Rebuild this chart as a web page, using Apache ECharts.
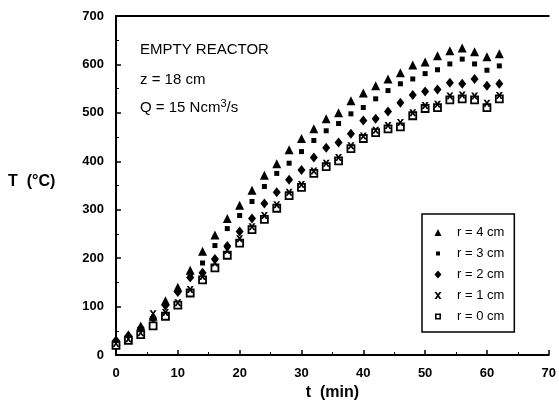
<!DOCTYPE html>
<html><head><meta charset="utf-8">
<script src="https://cdn.jsdelivr.net/npm/echarts@6/dist/echarts.min.js"></script>
<style>html,body{margin:0;padding:0;background:#fff}#c{width:559px;height:409px}</style>
</head><body><div id="c"></div>
<script>
const times = [0,2,4,6,8,10,12,14,16,18,20,22,24,26,28,30,32,34,36,38,40,42,44,46,48,50,52,54,56,58,60,62];
const r4 = [28,42,60,80,112,140,175,214,248,282,309,340,371,395,424,447,467,488,500,525,541,556,570,583,599,605,618,628,634,626,616,622];
const r3 = [25,38,55,75,105,132,165,190,226,261,288,317,348,375,396,420,443,463,478,498,511,529,546,560,570,581,589,601,611,601,588,597];
const r2 = [30,40,56,76,102,130,160,170,198,225,255,282,313,336,362,382,408,428,439,457,484,488,503,521,537,544,548,562,560,570,556,560];
const r1 = [24,33,46,85,88,108,135,162,190,216,240,265,288,310,336,352,380,396,408,432,452,464,474,480,500,515,518,535,537,535,520,536];
const r0 = [20,30,42,60,80,103,128,155,180,206,231,259,280,303,329,346,375,389,401,426,447,459,467,471,494,509,511,527,529,527,511,529];
const seriesNames = ['r = 4 cm','r = 3 cm','r = 2 cm','r = 1 cm','r = 0 cm'];
const xTicks = [0,10,20,30,40,50,60,70];
const yTicks = [0,100,200,300,400,500,600,700];

const pair = arr => times.map((t,i)=>[t,arr[i]]);
const xPath = 'path://M0,0 L3,0 L5,3 L7,0 L10,0 L6.5,5 L10,10 L7,10 L5,7 L3,10 L0,10 L3.5,5 Z';
const pad = 'M0,0 L0.01,0 L0.01,0.01 Z M10,10 L10.01,10 L10.01,10.01 Z ';
const font = 'Liberation Sans, Arial, Helvetica, sans-serif';
const legIcon = {color:'#000', opacity:1, borderWidth:0};

const chart = echarts.init(document.getElementById('c'), null, {renderer:'canvas'});
const axisCommon = {
  type:'value', splitLine:{show:false},
  axisLine:{show:true, lineStyle:{color:'#000', width:2}},
  axisTick:{show:true, inside:true, length:5, lineStyle:{color:'#000', width:1.5}},
  minorTick:{show:true, splitNumber:2, length:3, lineStyle:{color:'#000', width:1}},
  axisLabel:{color:'#000', fontWeight:'bold', fontSize:13, fontFamily:font, margin:12}
};
const blk = {color:'#000', opacity:1};
chart.setOption({
  animation:false,
  backgroundColor:'#fff',
  grid:{left:116, right:9, top:16, bottom:54, containLabel:false},
  xAxis:[
    Object.assign({}, axisCommon, {min:0, max:70, interval:10,
      name:'t  (min)', nameLocation:'middle', nameGap:30,
      nameTextStyle:{color:'#000', fontWeight:'bold', fontSize:16, fontFamily:font}}),
    {type:'value', position:'top', min:0, max:70, axisLine:{show:true, lineStyle:{color:'#000', width:2}},
     axisTick:{show:false}, axisLabel:{show:false}, splitLine:{show:false}}
  ],
  yAxis:[Object.assign({}, axisCommon, {min:0, max:700, interval:100})],
  legend:{
    orient:'vertical', left:422, top:214, width:103,
    padding:[12,10,9,11], itemGap:8, itemWidth:10, itemHeight:10,
    borderColor:'#000', borderWidth:1.5, backgroundColor:'#fff',
    textStyle:{color:'#000', fontSize:13, fontFamily:font, padding:[0,0,0,9]},
    data:[
      {name:seriesNames[0], icon:'path://'+pad+'M1.5,8.5 L5,1.5 L8.5,8.5 Z', itemStyle:legIcon},
      {name:seriesNames[1], icon:'path://'+pad+'M3,3 L7,3 L7,7 L3,7 Z', itemStyle:legIcon},
      {name:seriesNames[2], icon:'path://'+pad+'M5,1 L8.5,5 L5,9 L1.5,5 Z', itemStyle:legIcon},
      {name:seriesNames[3], icon:'path://'+pad+'M1.5,1.5 L3.5,1.5 L5,3.5 L6.5,1.5 L8.5,1.5 L6,5 L8.5,8.5 L6.5,8.5 L5,6.5 L3.5,8.5 L1.5,8.5 L4,5 Z', itemStyle:legIcon},
      {name:seriesNames[4], icon:'path://'+pad+'M2,2 L8,2 L8,8 L2,8 Z M3.6,3.6 L3.6,6.4 L6.4,6.4 L6.4,3.6 Z', itemStyle:legIcon}
    ]
  },
  graphic:[
    {type:'text', left:8, top:174, style:{text:'T  (°C)', font:'bold 16px '+font, fill:'#000'}},
    {type:'text', left:140, top:42, style:{text:'EMPTY REACTOR', font:'15px '+font, fill:'#000'}},
    {type:'text', left:140, top:72, style:{text:'z = 18 cm', font:'15px '+font, fill:'#000'}},
    {type:'text', left:140, top:98, style:{text:'Q = 15 Ncm{s|3}/s', font:'15px '+font, fill:'#000',
      rich:{s:{fontSize:11, fontFamily:font, verticalAlign:'top', padding:[0,0,8,0]}}}}
  ],
  series:[
    {name:seriesNames[0], type:'scatter', data:pair(r4), symbol:'triangle', symbolSize:9, itemStyle:blk},
    {name:seriesNames[1], type:'scatter', data:pair(r3), symbol:'rect', symbolSize:5, itemStyle:blk},
    {name:seriesNames[2], type:'scatter', data:pair(r2), symbol:'diamond', symbolSize:[8,10], itemStyle:blk},
    {name:seriesNames[4], type:'scatter', data:pair(r0), symbol:'rect', symbolSize:7, itemStyle:{color:'#fff', opacity:1, borderColor:'#000', borderWidth:1.8}},
    {name:seriesNames[3], type:'scatter', data:pair(r1), symbol:xPath, symbolSize:7, itemStyle:blk}
  ]
});
</script></body></html>
